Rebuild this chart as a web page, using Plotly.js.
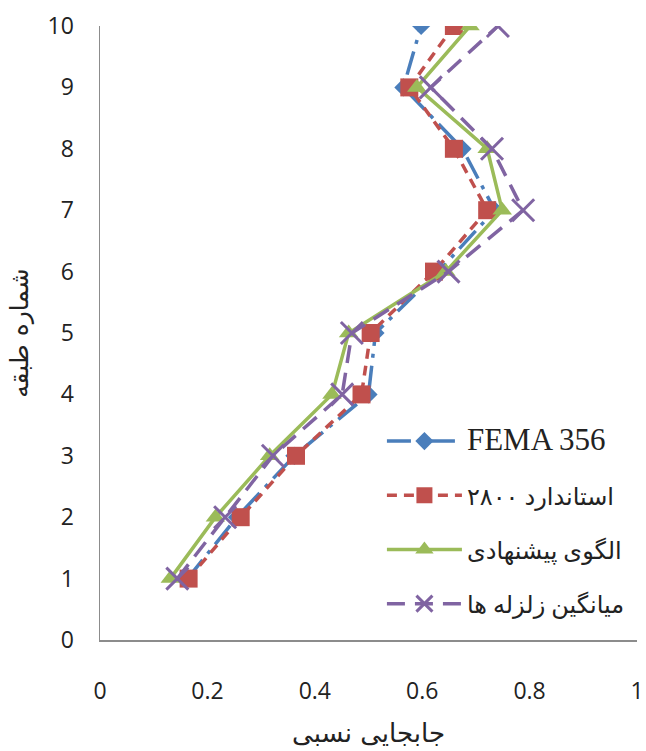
<!DOCTYPE html>
<html>
<head>
<meta charset="utf-8">
<script src="https://cdn.plot.ly/plotly-3.0.1.min.js"></script>
<style>html,body{margin:0;padding:0;background:#fff;}#chart{width:646px;height:751px;}</style>
</head>
<body>
<div id="chart"></div>
<script>
const floors = [1, 2, 3, 4, 5, 6, 7, 8, 9, 10];
const fema356 = [0.163, 0.255, 0.362, 0.500, 0.513, 0.630, 0.735, 0.675, 0.565, 0.598];
const std2800 = [0.165, 0.262, 0.365, 0.487, 0.504, 0.622, 0.721, 0.659, 0.576, 0.659];
const proposed = [0.131, 0.215, 0.316, 0.432, 0.463, 0.644, 0.749, 0.721, 0.590, 0.689];
const quakeAvg = [0.144, 0.233, 0.322, 0.451, 0.469, 0.649, 0.788, 0.730, 0.616, 0.741];
const seriesNames = ['FEMA 356', 'استاندارد ۲۸۰۰', 'الگوی پیشنهادی', 'میانگین زلزله ها'];
const xTickVals = [0, 0.2, 0.4, 0.6, 0.8, 1];
const xTickText = ['0', '0.2', '0.4', '0.6', '0.8', '1'];
const yTickVals = [0, 1, 2, 3, 4, 5, 6, 7, 8, 9, 10];
const xTitle = 'جابجایی نسبی';
const yTitle = 'شماره طبقه';

const traces = [
  {x: fema356, y: floors, name: '<span style="font-size:31px">' + seriesNames[0] + '</span>', legendgroup: 'a', mode: 'lines+markers', type: 'scatter',
   line: {color: '#4A7EBB', width: 3.5, dash: '24px,8px,4px,8px'},
   marker: {symbol: 'diamond', size: 14, color: '#4A7EBB'}},
  {x: std2800, y: floors, name: seriesNames[1], legendgroup: 'b', mode: 'lines+markers', type: 'scatter',
   line: {color: '#C0504D', width: 3.5, dash: '10px,7px'},
   marker: {symbol: 'square', size: 18, color: '#C0504D'}},
  {x: proposed, y: floors, name: seriesNames[2], legendgroup: 'c', mode: 'lines+markers', type: 'scatter',
   line: {color: '#9BBB59', width: 3.5},
   marker: {symbol: 'triangle-up', size: 17, color: '#9BBB59'}},
  {x: quakeAvg, y: floors, name: seriesNames[3], legendgroup: 'd', mode: 'lines+markers', type: 'scatter',
   line: {color: '#8064A2', width: 3.5, dash: '18px,10px'},
   marker: {symbol: 'x-thin', size: 22, color: '#8064A2', line: {color: '#8064A2', width: 3}}}
];

const layout = {
  width: 646, height: 751,
  margin: {l: 100, r: 9, t: 26, b: 111},
  paper_bgcolor: '#fff', plot_bgcolor: '#fff',
  font: {family: 'Open Sans, DejaVu Sans, sans-serif', color: '#222'},
  xaxis: {
    range: [0, 1], tickvals: xTickVals, ticktext: xTickText,
    showgrid: false, zeroline: false, showline: true, linecolor: '#8c8c8c', linewidth: 1.5,
    ticks: '', ticklabelstandoff: 30,
    tickfont: {family: 'Open Sans, sans-serif', size: 23, color: '#222'},
    title: {text: xTitle, font: {family: 'DejaVu Sans, sans-serif', size: 26, color: '#222'}, standoff: 18}
  },
  yaxis: {
    range: [0, 10], tickvals: yTickVals,
    showgrid: false, zeroline: false, showline: true, linecolor: '#8c8c8c', linewidth: 1.5,
    ticks: '', ticklabelstandoff: 20,
    tickfont: {family: 'Open Sans, sans-serif', size: 23, color: '#222'},
    title: {text: yTitle, font: {family: 'DejaVu Sans, sans-serif', size: 25, color: '#222'}, standoff: 12}
  },
  showlegend: true,
  legend: {
    x: 0.525, y: 0.36, xanchor: 'left', yanchor: 'top',
    bgcolor: 'rgba(255,255,255,0)', tracegroupgap: 20, itemwidth: 75,
    font: {family: 'Liberation Serif, DejaVu Sans, serif', size: 24, color: '#222'}
  }
};

Plotly.newPlot('chart', traces, layout, {displayModeBar: false, staticPlot: true});
</script>
</body>
</html>
